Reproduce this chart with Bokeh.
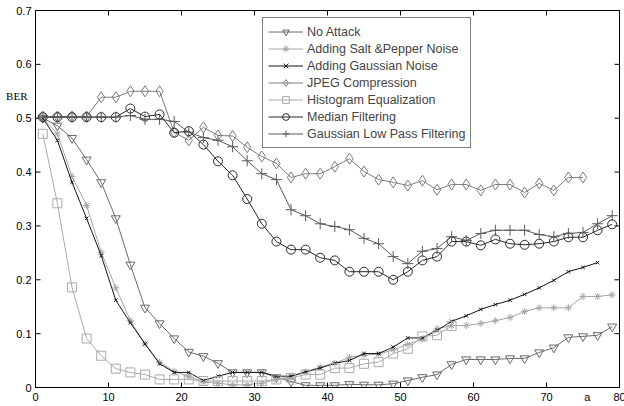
import math
from bokeh.plotting import figure
from bokeh.models import (Range1d, FixedTicker, LinearAxis, Legend, LegendItem)
from bokeh.embed import file_html
from bokeh.resources import INLINE

x_all = [1, 3, 5, 7, 9, 11, 13, 15, 17, 19, 21, 23, 25, 27, 29, 31, 33, 35, 37, 39,
         41, 43, 45, 47, 49, 51, 53, 55, 57, 59, 61, 63, 65, 67, 69, 71, 73, 75, 77, 79]

no_attack = [0.500, 0.486, 0.463, 0.423, 0.381, 0.314, 0.228, 0.148, 0.119, 0.091,
             0.066, 0.058, 0.045, 0.028, 0.028, 0.028, 0.019, 0.011, 0.004, 0.004,
             0.004, 0.006, 0.005, 0.005, 0.007, 0.013, 0.019, 0.024, 0.043, 0.052,
             0.052, 0.052, 0.054, 0.054, 0.065, 0.074, 0.093, 0.095, 0.097, 0.113]

salt_pepper = [0.500, 0.471, 0.392, 0.338, 0.251, 0.185, 0.124, 0.081, 0.047, 0.030,
               0.020, 0.010, 0.008, 0.005, 0.005, 0.008, 0.015, 0.020, 0.029, 0.038,
               0.045, 0.056, 0.060, 0.062, 0.070, 0.080, 0.090, 0.109, 0.115, 0.115,
               0.119, 0.124, 0.130, 0.141, 0.148, 0.148, 0.148, 0.169, 0.169, 0.172]

gauss_noise = [0.500, 0.459, 0.381, 0.314, 0.245, 0.162, 0.120, 0.081, 0.044, 0.028,
               0.028, 0.013, 0.021, 0.028, 0.028, 0.028, 0.021, 0.021, 0.029, 0.036,
               0.045, 0.050, 0.063, 0.063, 0.075, 0.092, 0.092, 0.106, 0.123, 0.133,
               0.145, 0.154, 0.162, 0.173, 0.185, 0.199, 0.215, 0.223, 0.232]

jpeg = [0.503, 0.503, 0.503, 0.503, 0.539, 0.539, 0.550, 0.550, 0.550, 0.474,
        0.459, 0.483, 0.468, 0.467, 0.446, 0.429, 0.416, 0.390, 0.397, 0.397,
        0.410, 0.425, 0.401, 0.386, 0.381, 0.375, 0.384, 0.367, 0.377, 0.377,
        0.366, 0.377, 0.377, 0.362, 0.379, 0.366, 0.390, 0.390]

hist_eq = [0.471, 0.342, 0.186, 0.091, 0.059, 0.035, 0.028, 0.024, 0.015, 0.015,
           0.015, 0.012, 0.012, 0.012, 0.012, 0.012, 0.015, 0.018, 0.024, 0.024,
           0.036, 0.036, 0.044, 0.047, 0.063, 0.072, 0.095, 0.097, 0.114]

median = [0.502, 0.502, 0.502, 0.502, 0.502, 0.502, 0.518, 0.503, 0.507, 0.473,
          0.476, 0.451, 0.420, 0.394, 0.350, 0.304, 0.271, 0.256, 0.256, 0.241,
          0.236, 0.215, 0.215, 0.215, 0.200, 0.215, 0.236, 0.243, 0.271, 0.271,
          0.264, 0.275, 0.267, 0.265, 0.267, 0.271, 0.279, 0.279, 0.292, 0.303]

gauss_lp = [0.502, 0.502, 0.502, 0.502, 0.502, 0.502, 0.505, 0.498, 0.498, 0.494,
            0.474, 0.464, 0.459, 0.447, 0.421, 0.397, 0.386, 0.330, 0.319, 0.304,
            0.299, 0.293, 0.277, 0.267, 0.243, 0.230, 0.253, 0.258, 0.280, 0.273,
            0.286, 0.292, 0.292, 0.292, 0.284, 0.280, 0.286, 0.288, 0.304, 0.319]

series_names = ["No Attack", "Adding Salt &Pepper Noise", "Adding Gaussian Noise",
                "JPEG Compression", "Histogram Equalization", "Median Filtering",
                "Gaussian Low Pass Filtering"]

x_ticks = [0, 10, 20, 30, 40, 50, 60, 70, 80]
x_tick_labels = ["0", "10", "20", "30", "40", "50", "60", "70", "80"]
y_ticks = [0, 0.1, 0.2, 0.3, 0.4, 0.5, 0.6, 0.7]
y_tick_labels = ["0", "0.1", "0.2", "0.3", "0.4", "0.5", "0.6", "0.7"]
y_title, y_title_pos = "BER", 0.542
x_title, x_title_pos = "a", 75.6

FONT = "Liberation Sans"
X0, X1, Y0, Y1 = 0, 80, 0, 0.7

p = figure(width=624, height=406, output_backend="svg", toolbar_location=None,
           x_range=Range1d(X0, X1), y_range=Range1d(Y0, Y1),
           min_border_left=35, min_border_right=5, min_border_top=10, min_border_bottom=19,
           background_fill_color="white", border_fill_color="white")
p.grid.visible = False
p.outline_line_color = "black"
p.outline_line_width = 1


def tick_only(ax, ticks):
    ax.ticker = FixedTicker(ticks=ticks)
    ax.major_tick_in = 5
    ax.major_tick_out = 0
    ax.major_tick_line_color = "black"
    ax.minor_tick_line_color = None
    ax.axis_line_color = "black"
    ax.major_label_standoff = 0
    ax.major_label_text_font_size = "1px"
    ax.major_label_text_color = None


def label_only(ax, ticks, overrides, standoff, font=FONT):
    ax.ticker = FixedTicker(ticks=ticks)
    ax.major_label_overrides = overrides
    ax.major_tick_in = 0
    ax.major_tick_out = 0
    ax.major_tick_line_color = None
    ax.minor_tick_line_color = None
    ax.axis_line_color = None
    ax.major_label_standoff = standoff
    ax.major_label_text_font = font
    ax.major_label_text_font_size = "11px"
    ax.major_label_text_color = "black"


# bottom: inward ticks next to frame, then labels (numbers + "a")
tick_only(p.xaxis[0], x_ticks)
xlab = LinearAxis()
label_only(xlab, x_ticks + [x_title_pos],
           dict(list(zip(x_ticks, x_tick_labels)) + [(x_title_pos, x_title)]), 3)
p.add_layout(xlab, "below")

# top: inward ticks
top = LinearAxis()
tick_only(top, x_ticks)
p.add_layout(top, "above")

# left: numeric labels, then outer axis carrying "BER"
label_only(p.yaxis[0], y_ticks, dict(zip(y_ticks, y_tick_labels)), 4)
ylab = LinearAxis()
label_only(ylab, [y_title_pos], {y_title_pos: y_title}, -14, font="Liberation Serif")
p.add_layout(ylab, "left")

# inward tick marks on left and right frame edges (5 screen px)
p.ray(x=[X0] * len(y_ticks), y=y_ticks, length=5, length_units="screen",
      angle=0, line_color="black", line_width=1)
p.ray(x=[X1] * len(y_ticks), y=y_ticks, length=5, length_units="screen",
      angle=math.pi, line_color="black", line_width=1)

styles = [
    (no_attack, "#6a6a6a", "inverted_triangle", 9),
    (salt_pepper, "#a6a6a6", "asterisk", 7),
    (gauss_noise, "#151515", "x", 5),
    (jpeg, "#7c7c7c", "diamond", 11),
    (hist_eq, "#aaaaaa", "square", 9),
    (median, "#2a2a2a", "circle", 9),
    (gauss_lp, "#5a5a5a", "cross", 11),
]

items = []
for name, (vals, col, mk, sz) in zip(series_names, styles):
    xs = x_all[:len(vals)]
    r1 = p.line(xs, vals, line_color=col, line_width=1)
    r2 = p.scatter(xs, vals, marker=mk, size=sz, line_color=col, fill_alpha=0,
                   line_width=1)
    items.append(LegendItem(label=name, renderers=[r1, r2]))

legend = Legend(items=items, location=(227, 239), border_line_color="black",
                border_line_width=1, background_fill_color="white",
                label_text_font=FONT, label_text_font_size="12.5px",
                label_height=17, glyph_height=17, glyph_width=35,
                label_standoff=4, padding=5, spacing=0, margin=0)
p.add_layout(legend, "center")

open("out.html", "w").write(file_html(p, INLINE))
